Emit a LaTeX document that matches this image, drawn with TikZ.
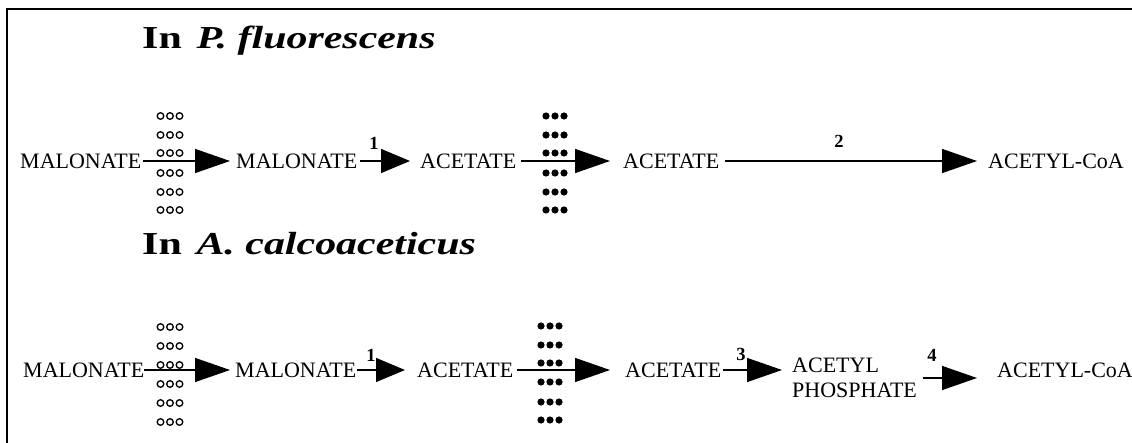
\documentclass[tikz,border=0pt]{standalone}
\usepackage{graphicx}
\usepackage{fontspec}
\setmainfont{Liberation Serif}
\usetikzlibrary{arrows.meta}
\begin{document}
\begin{tikzpicture}[x=1pt,y=-1pt,
  chem/.style={font=\fontsize{22}{25}\selectfont, inner sep=0pt, anchor=west},
  enz/.style={font=\bfseries\fontsize{18.5}{18.5}\selectfont, inner sep=0pt, anchor=base},
  rxn/.style={line width=1.4pt, -{Triangle[length=35pt,width=24pt]}},
  shortrxn/.style={line width=1.4pt, -{Triangle[length=29pt,width=24pt]}},
  heading/.style={font=\bfseries\fontsize{32}{32}\selectfont, inner sep=0pt, anchor=base west},
  opendot/.style={line width=1.3pt},
  fulldot/.style={fill=black},
]
\useasboundingbox (0,0) rectangle (1132,443);
% open frame: left and top rules
\draw[line width=1.6pt] (7,443) -- (7,9) -- (1132,9);

% headings
\node[heading] (t1) at (142,49) {\scalebox{1.31}[1]{In\hspace{0.35em}\textit{P. fluorescens}}};
\node[heading] (t2) at (142,255) {\scalebox{1.31}[1]{In\hspace{0.35em}\textit{A. calcoaceticus}}};

% first pathway
\node[chem] (m1) at (20,161) {MALONATE};
\node[chem] (m2) at (236,161) {MALONATE};
\node[chem] (a1) at (420,161) {ACETATE};
\node[chem] (a2) at (623,161) {ACETATE};
\node[chem] (c1) at (988,161) {ACETYL-CoA};

\draw[rxn, shorten <=2pt, shorten >=6pt] (m1.east) -- (m2.west);
\draw[shortrxn, shorten <=3pt, shorten >=10pt] (m2.east) -- (a1.west);
\draw[rxn, shorten <=5pt, shorten >=13pt] (a1.east) -- (a2.west);
\draw[rxn, shorten <=6pt, shorten >=11pt] (a2.east) -- (c1.west);

\node[enz] (e1) at (374,150) {1};
\node[enz] (e2) at (839,148) {2};

\foreach \y in {116,135,153,173,192,210} {
  \foreach \x in {160.5,170,179.5} \draw[opendot] (\x,\y) circle (3.3);
  \foreach \x in {546,555,564} \fill[fulldot] (\x,\y) circle (3.6);
}

% second pathway
\node[chem] (n1) at (23,370) {MALONATE};
\node[chem] (n2) at (235,370) {MALONATE};
\node[chem] (b1) at (417,370) {ACETATE};
\node[chem] (b2) at (625,370) {ACETATE};
\node[chem, align=left] (ap) at (792,378) {ACETYL\\PHOSPHATE};
\node[chem] (c2) at (997,370) {ACETYL-CoA};

\draw[rxn, shorten <=0pt, shorten >=5pt] (n1.east) -- (n2.west);
\draw[shortrxn, shorten <=1pt, shorten >=12pt] (n2.east) -- (b1.west);
\draw[rxn, shorten <=4pt, shorten >=15pt] (b1.east) -- (b2.west);
\draw[rxn, shorten <=2pt, shorten >=10pt] (b2.east) -- (b2.east -| ap.west);
\draw[rxn, shorten <=6pt, shorten >=20pt] (ap.east) -- (ap.east -| c2.west);

\node[enz] (e3) at (371,362) {1};
\node[enz] (e4) at (741,360) {3};
\node[enz] (e5) at (932,362) {4};

\foreach \y in {327,346,365,384,403,422}
  \foreach \x in {160.5,170,179.5} \draw[opendot] (\x,\y) circle (3.3);
\foreach \y in {326,345,363,382,402,420}
  \foreach \x in {541,550,559} \fill[fulldot] (\x,\y) circle (3.6);
\end{tikzpicture}
\end{document}
